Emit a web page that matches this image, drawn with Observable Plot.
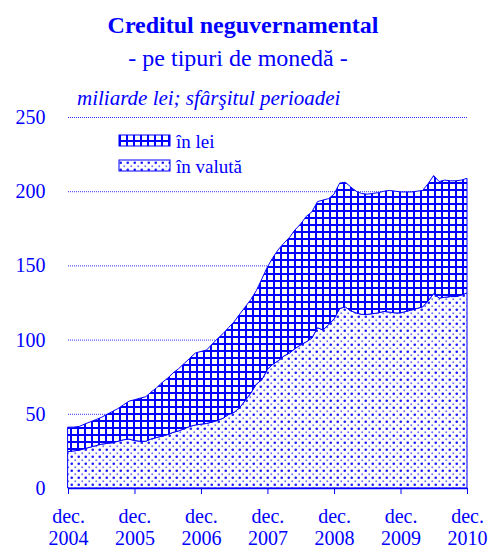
<!DOCTYPE html>
<html><head><meta charset="utf-8">
<script src="https://cdn.jsdelivr.net/npm/d3@7"></script>
<script src="https://cdn.jsdelivr.net/npm/@observablehq/plot@0.6"></script>
<style>
body{margin:0;background:#fff;}
#wrap{width:490px;height:548px;}
#wrap svg text{font-family:"Liberation Serif",serif !important;}
</style></head><body><div id="wrap"></div>
<script>
// Monthly data, Dec 2004 .. Dec 2010 (billion lei, end of period)
const startYear = 2004, startMonth = 11; // December
const valuta = [24.5,25,25.5,26.5,27.5,28.5,29.5,30,30.5,31.5,32.5,33,
  32,31.5,31.5,33,34,35,36,37.5,38.5,40,41.5,42.5,
  43,43.5,44.5,45.5,47,49.5,51,54,59,64,70,73,
  80,83.5,86,89,91,94,96.5,98.5,101,108,106.5,110,
  114,121,122,119.5,118,117,117,117.5,118,119,118.5,118,
  118,119,120,121,122,126,131,128,128.5,129,129,130,131.5];
const lei = [16.5,16,16,16.5,17,17.5,18,19.5,21,22,23.5,25.5,
  27.5,29,30,31.5,33.5,36,38,40,42,44,46,48.5,
  49,49.5,52.5,55,57,58.5,61,63,63,63,63,68,
  69,72,75,76,78,80,81.5,84.5,85,85,87.5,85,
  84,84.5,84,83.5,82,81.5,81,81,81,81,82,82,
  81.5,80.5,79.5,79,78.5,79,79.5,78.5,79,78,78,77.5,77.2];
const seriesNames = ["în valută", "în lei"];
const tickYears = [2004, 2005, 2006, 2007, 2008, 2009, 2010];
const yTicks = [0, 50, 100, 150, 200, 250];
const gridValues = [50, 100, 150, 200, 250];
const titleText = "Creditul neguvernamental";
const subtitleText = "- pe tipuri de monedă -";
const unitText = "miliarde lei; sfârşitul perioadei";

const BLUE = "#0000ff";
const FONT = "Liberation Serif";

const dates = valuta.map((_, i) => new Date(Date.UTC(startYear, startMonth + i, 1)));
const rows = [];
dates.forEach((d, i) => {
  rows.push({date: d, series: seriesNames[0], value: valuta[i]});
  rows.push({date: d, series: seriesNames[1], value: lei[i]});
});
const xTicks = tickYears.map(y => new Date(Date.UTC(y, 11, 1)));

const chart = Plot.plot({
  width: 490, height: 548,
  marginTop: 117, marginBottom: 60, marginLeft: 68, marginRight: 23,
  style: {fontFamily: FONT, fontSize: "20px", color: BLUE, background: "white"},
  x: {type: "utc", domain: [dates[0], dates[dates.length - 1]]},
  y: {domain: [0, 250]},
  color: {domain: seriesNames, range: ["url(#pDots)", "url(#pGrid)"]},
  marks: [
    Plot.ruleY(gridValues, {stroke: BLUE, strokeWidth: 1, strokeDasharray: "1,1", strokeOpacity: 0.8}),
    Plot.areaY(rows, Plot.stackY({x: "date", y: "value", z: "series", fill: "series", stroke: BLUE, strokeWidth: 1})),
    Plot.ruleY([0], {stroke: BLUE, strokeWidth: 1.5}),
    Plot.axisY({ticks: yTicks, tickSize: 0, tickPadding: 23, fontSize: 20, fill: BLUE, label: null}),
    Plot.axisX({ticks: xTicks, tickSize: 6, tickPadding: 13, stroke: BLUE, fill: BLUE, fontSize: 20, lineHeight: 1.1,
      tickFormat: d => "dec.\n" + d.getUTCFullYear(), label: null})
  ]
});

const svg = d3.select(chart);
svg.insert("defs", ":first-child").html(`
  <pattern id="pGrid" patternUnits="userSpaceOnUse" width="7" height="7">
    <rect width="7" height="7" fill="#ffffff"/>
    <rect x="0" y="0" width="7" height="2" fill="#0000ff"/>
    <rect x="0" y="0" width="2" height="7" fill="#0000ff"/>
  </pattern>
  <pattern id="pDots" patternUnits="userSpaceOnUse" width="7" height="7">
    <rect width="7" height="7" fill="#ffffff"/>
    <circle cx="1.75" cy="1.75" r="1.3" fill="#1a1aff"/>
    <circle cx="5.25" cy="5.25" r="1.0" fill="#7070ff"/>
  </pattern>`);

const g = svg.append("g").attr("font-family", FONT).attr("fill", BLUE).attr("text-anchor", "start");
g.append("text").attr("x", 243).attr("y", 33).attr("text-anchor", "middle")
  .attr("font-size", 24).attr("font-weight", "bold").text(titleText);
g.append("text").attr("x", 238).attr("y", 66).attr("text-anchor", "middle")
  .attr("font-size", 24).text(subtitleText);
g.append("text").attr("x", 77).attr("y", 105).attr("text-anchor", "start")
  .attr("font-size", 21).attr("font-style", "italic").text(unitText);

const legend = g.append("g");
const legendItems = [{name: seriesNames[1], fill: "url(#pGrid)", y: 135}, {name: seriesNames[0], fill: "url(#pDots)", y: 160}];
legendItems.forEach(it => {
  legend.append("rect").attr("x", 119).attr("y", it.y).attr("width", 51).attr("height", 11)
    .attr("fill", it.fill).attr("stroke", BLUE).attr("stroke-width", 1);
  legend.append("text").attr("x", 176).attr("y", it.y + 13).attr("text-anchor", "start")
    .attr("font-size", 19).text(it.name);
});

document.getElementById("wrap").appendChild(chart);
</script></body></html>
